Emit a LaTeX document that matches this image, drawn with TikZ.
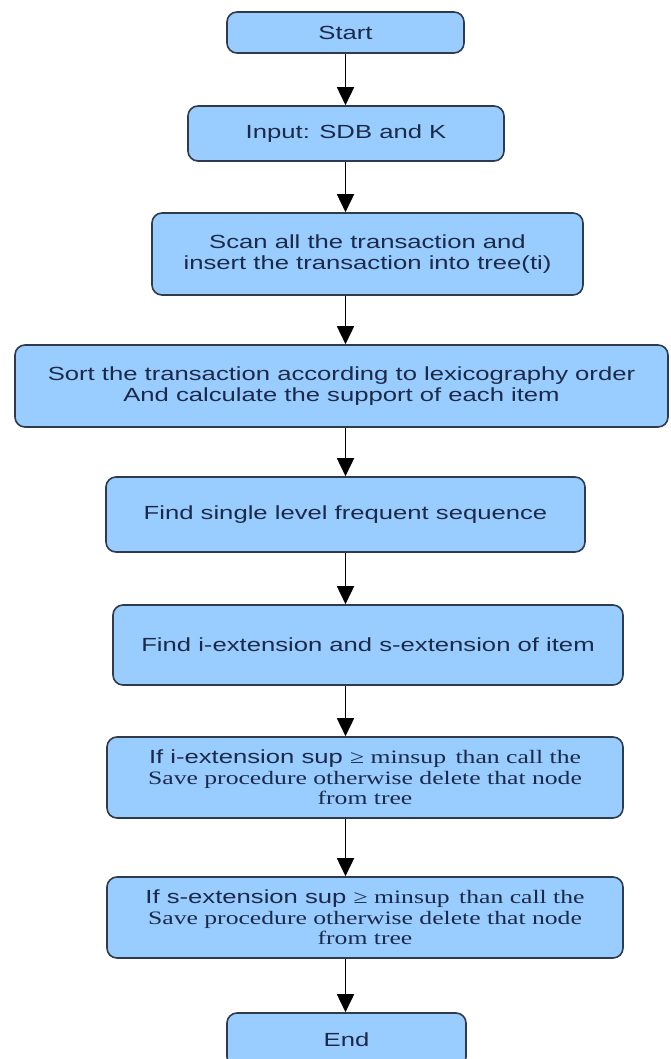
\documentclass[tikz,border=0pt]{standalone}
\usepackage{fontspec}
\setmainfont{Liberation Sans}[FakeStretch=1.35]
\newfontfamily\boxserif{Liberation Serif}[FakeStretch=1.35]
\usetikzlibrary{arrows.meta}
\definecolor{boxblue}{HTML}{99CCFF}
\definecolor{boxline}{HTML}{2F3B4C}
\definecolor{boxtext}{HTML}{1C2A48}
\tikzset{
    flow-box/.style = {draw=boxline, fill=boxblue, line width=1.6pt, rectangle, rounded corners=10pt, inner sep=0pt, align=center, text=boxtext, font=\fontsize{19}{20.5}\selectfont},
    flow-arrow/.style = {-{Triangle[length=18pt,width=17pt]}, line width=1.6pt, black},
}

\begin{document}
\begin{tikzpicture}[x=1pt, y=-1pt]
\useasboundingbox (0,0) rectangle (670,1059);
\clip (0,0) rectangle (670,1059);
\node[flow-box, minimum width=237pt, minimum height=41pt] (start) at (345.5,32.5) {Start};
\node[flow-box, minimum width=316pt, minimum height=55pt] (input) at (346,133.5) {Input: SDB and K};
\node[flow-box, minimum width=431pt, minimum height=82pt] (scan) at (367.5,254) {Scan all the transaction and\\insert the transaction into tree(ti)};
\node[flow-box, minimum width=653pt, minimum height=82pt] (sort) at (341.5,386) {Sort the transaction according to lexicography order\\And calculate the support of each item};
\node[flow-box, minimum width=479pt, minimum height=75pt] (single) at (345.5,514.5) {Find single level frequent sequence};
\node[flow-box, minimum width=510pt, minimum height=80pt] (extend) at (368,645) {Find i-extension and s-extension of item};
\node[flow-box, minimum width=516pt, minimum height=81pt] (iext) at (365,777.5) {If i-extension sup {\boxserif ≥ minsup\enspace than call the}\\{\boxserif Save procedure otherwise delete that node}\\{\boxserif from tree}};
\node[flow-box, minimum width=516pt, minimum height=81pt] (sext) at (365,917.5) {If s-extension sup {\boxserif ≥ minsup\enspace than call the}\\{\boxserif Save procedure otherwise delete that node}\\{\boxserif from tree}};
\node[flow-box, minimum width=239pt, minimum height=54pt] (end) at (346.5,1040) {End};

% arrows all run down one line
\foreach \a/\b in {start/input, input/scan, scan/sort, sort/single, single/extend, extend/iext, iext/sext, sext/end}
    \draw[flow-arrow] (\a.south -| start.south) -- (\b.north -| start.south);
\end{tikzpicture}
\end{document}
